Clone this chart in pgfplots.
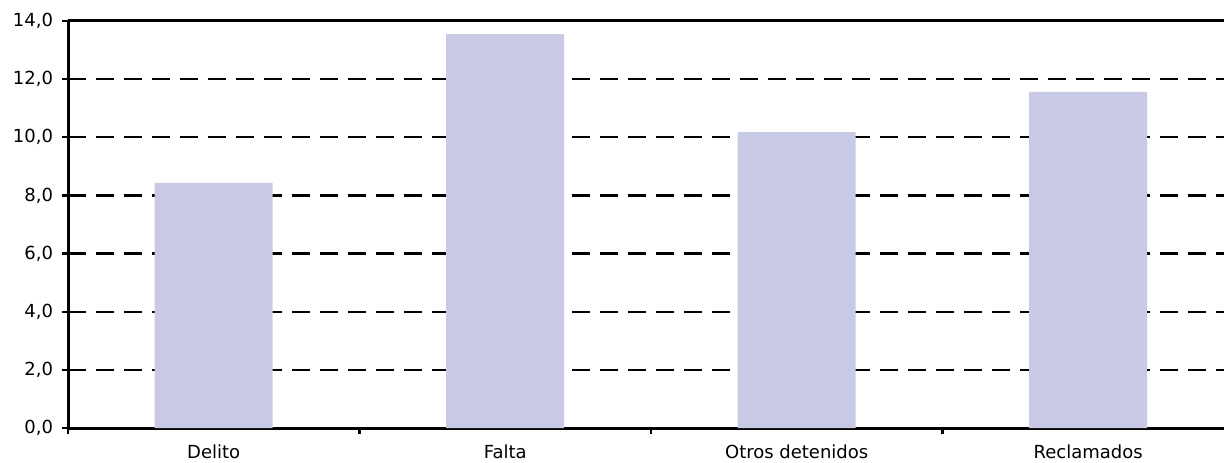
\documentclass[border=0pt]{standalone}
\usepackage{pgfplots}
\pgfplotsset{compat=1.18}
\usepackage{fontspec}
\setmainfont{DejaVu Sans}
\definecolor{barc}{RGB}{200,202,229}
\begin{document}
\begin{tikzpicture}
\useasboundingbox (-34bp,-17.5bp) rectangle (578bp,214bp);
\begin{axis}[
  at={(0,0)}, anchor=south west,
  scale only axis,
  width=578bp, height=203.5bp,
  xmin=-0.5, xmax=3.466,
  ymin=0, ymax=14,
  axis x line*=bottom, axis y line*=left,
  axis line style={line width=1.5bp, black, -},
  xtick={0,1,2,3},
  xticklabels={Delito,Falta,Otros detenidos,Reclamados},
  minor xtick={-0.5,0.5,1.5,2.5},
  major x tick style={draw=none},
  minor x tick style={line width=1.2bp, black},
  minor tick length=3bp,
  ytick={0,2,...,14},
  major tick length=3bp,
  y tick style={line width=1.2bp, black},
  tick align=outside,
  ymajorgrids,
  grid style={line width=1.2bp, black, dash pattern=on 9bp off 5bp},
  /pgf/number format/fixed,
  /pgf/number format/fixed zerofill,
  /pgf/number format/precision=1,
  /pgf/number format/use comma,
  /pgf/number format/assume math mode=true,
  ticklabel style={font=\fontsize{9bp}{10bp}\selectfont, text=black},
  xticklabel style={yshift=-2bp},
  yticklabel style={xshift=-1bp},
  clip=false,
]
\addplot[ybar, bar width=59bp, fill=barc, draw=none] coordinates {
  (0,8.43) (1,13.55) (2,10.18) (3,11.56)
};
\draw[line width=1.5bp] (rel axis cs:0,1) -- (rel axis cs:1,1);
\end{axis}
\end{tikzpicture}
\end{document}
